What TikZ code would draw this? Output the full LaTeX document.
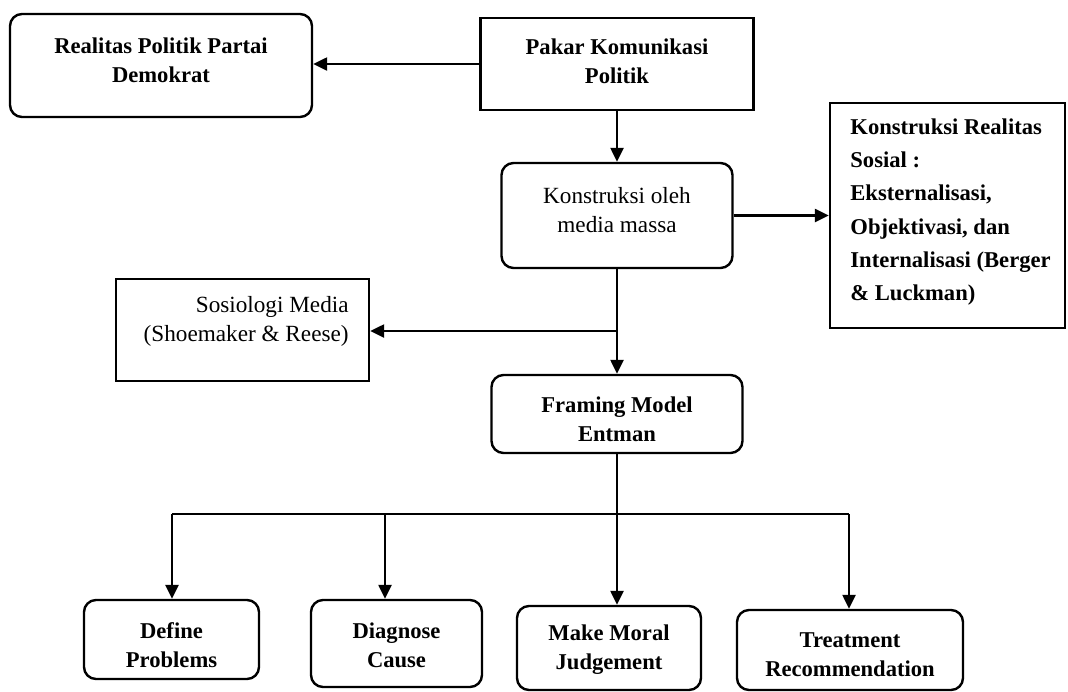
\documentclass[tikz,border=0pt]{standalone}
\usepackage{fontspec}
\setmainfont{Liberation Serif}
\usetikzlibrary{arrows.meta}

\tikzset{
  kotak/.style={draw, line width=1.2pt, inner sep=0pt},
  kotakr/.style={kotak, rounded corners=6pt},
  teks/.style={align=center, inner sep=0pt, font=\bfseries\fontsize{11.3}{14.5}\selectfont},
  teksbiasa/.style={teks, font=\fontsize{11.6}{14.5}\selectfont},
  panah/.style={line width=1.2pt, -{Triangle[length=7pt,width=6.5pt]}},
}

\begin{document}
\begin{tikzpicture}[x=0.5pt, y=-0.5pt]
  \useasboundingbox (0,0) rectangle (1068,691);
  % kotak atas
  \node[kotakr, minimum width=151pt, minimum height=51.5pt] (realitas) at (161,65.5) {};
  \node[teks] (realitas-t) at (161,60) {Realitas Politik Partai\\Demokrat};
  \node[kotak, minimum width=136.5pt, minimum height=46pt] (pakar) at (617,64) {};
  \node[teks] (pakar-t) at (617,61) {Pakar Komunikasi\\Politik};
  \node[kotakr, minimum width=115.5pt, minimum height=52.5pt] (konstruksi) at (617,215.5) {};
  \node[teksbiasa] (konstruksi-t) at (617,210) {Konstruksi oleh\\media massa};
  \node[kotak, minimum width=117.5pt, minimum height=112.5pt] (krs) at (947.5,215.5) {};
  \node[teks, align=left, anchor=west, font=\bfseries\fontsize{11.3}{16.6}\selectfont] (krs-t) at (850,212)
    {Konstruksi Realitas\\Sosial :\\Eksternalisasi,\\Objektivasi, dan\\Internalisasi (Berger\\\& Luckman)};
  % tengah
  \node[kotak, minimum width=126.5pt, minimum height=51pt] (sosiologi) at (242.5,330) {};
  \node[teksbiasa, align=right, anchor=east] (sosiologi-t) at (349,321) {Sosiologi Media\\(Shoemaker \& Reese)};
  \node[kotakr, minimum width=125.5pt, minimum height=39pt] (framing) at (617,414) {};
  \node[teks] (framing-t) at (617,419) {Framing Model\\Entman};
  % kotak bawah
  \node[kotakr, minimum width=87.5pt, minimum height=39.5pt] (define) at (171.5,639.5) {};
  \node[teks] (define-t) at (171.5,645) {Define\\Problems};
  \node[kotakr, minimum width=85.5pt, minimum height=43.5pt] (diagnose) at (396.5,643.5) {};
  \node[teks] (diagnose-t) at (396.5,645) {Diagnose\\Cause};
  \node[kotakr, minimum width=92pt, minimum height=42pt] (moral) at (609,648) {};
  \node[teks] (moral-t) at (609,650) {Make Moral\\Judgement};
  \node[kotakr, minimum width=113pt, minimum height=40pt] (treatment) at (850,650) {};
  \node[teks] (treatment-t) at (850,655) {Treatment\\Recommendation};

  % panah
  \draw[panah] (pakar.west) -- (realitas.east |- pakar.west);
  \draw[panah] (pakar.south) -- (konstruksi.north);
  \draw[panah] (konstruksi.east) -- (krs.west |- konstruksi.east);
  \draw[panah] (konstruksi.south) -- (framing.north);
  \coordinate (cab1) at (617,331);
  \draw[panah] (cab1) -- (sosiologi.east |- cab1);
  \coordinate (c1) at (172,514);
  \coordinate (c2) at (385,514);
  \coordinate (c4) at (849,514);
  \draw[line width=1pt] (c1) -- (c4);
  \draw[line width=1pt] (framing.south) -- (framing.south |- c1);
  \draw[panah] (c1) -- (c1 |- define.north);
  \draw[panah] (c2) -- (c2 |- diagnose.north);
  \draw[panah] (framing.south |- c1) -- (framing.south |- moral.north);
  \draw[panah] (c4) -- (c4 |- treatment.north);
\end{tikzpicture}
\end{document}
